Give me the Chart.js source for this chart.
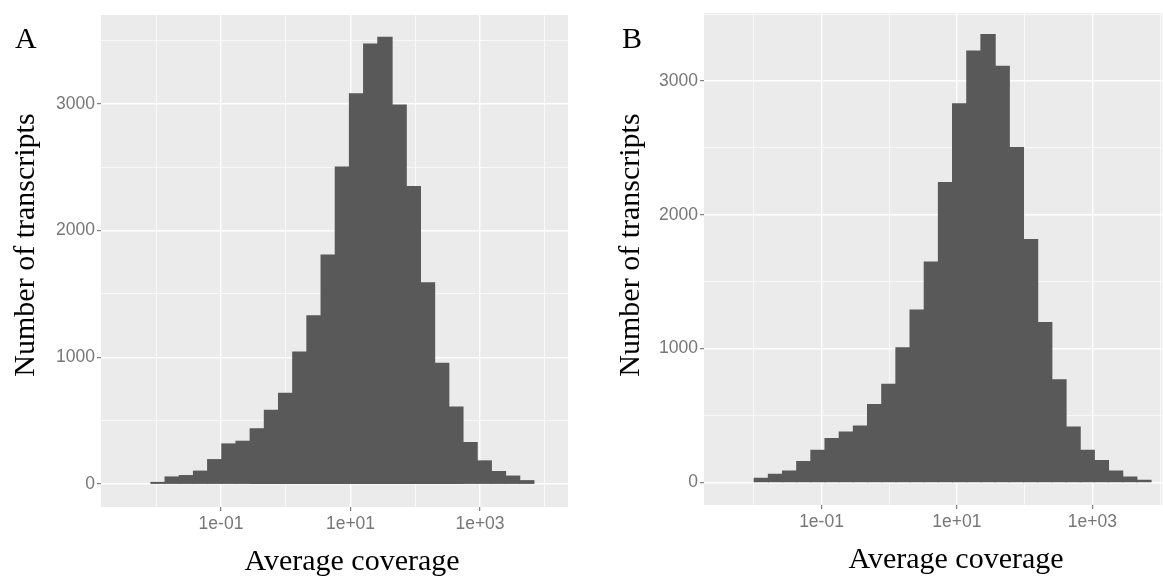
<!DOCTYPE html>
<html>
<head>
<meta charset="utf-8">
<script src="https://cdn.jsdelivr.net/npm/chart.js@4.4.1/dist/chart.umd.min.js"></script>
<style>
  body { margin: 0; background: #fff; }
  .panel { position: absolute; top: 0; }
</style>
</head>
<body>
<div class="panel" style="left:0"><canvas id="chart-a" width="580" height="577"></canvas></div>
<div class="panel" style="left:580px"><canvas id="chart-b" width="583" height="577"></canvas></div>
<script>
// Histogram bins, centres given as log10(average coverage)
const binsA = [-1.972, -1.753, -1.534, -1.315, -1.096, -0.877, -0.658, -0.439, -0.220, -0.001,
  0.218, 0.437, 0.656, 0.875, 1.094, 1.313, 1.532, 1.751, 1.970, 2.189,
  2.408, 2.627, 2.846, 3.065, 3.284, 3.503, 3.722];
const countsA = [12, 55, 66, 101, 192, 316, 337, 436, 582, 716,
  1042, 1327, 1807, 2501, 3080, 3472, 3526, 2991, 2347, 1588,
  953, 607, 327, 182, 98, 62, 26];

const binsB = [-1.889, -1.680, -1.471, -1.261, -1.052, -0.843, -0.633, -0.424, -0.215, -0.005,
  0.204, 0.413, 0.623, 0.832, 1.041, 1.251, 1.460, 1.669, 1.879, 2.088,
  2.297, 2.507, 2.716, 2.925, 3.134, 3.344, 3.553, 3.762];
const countsB = [30, 60, 85, 155, 240, 328, 376, 420, 582, 732,
  1005, 1287, 1646, 2240, 2829, 3223, 3347, 3110, 2502, 1815,
  1194, 766, 413, 240, 163, 84, 40, 15];

// axis breaks (x in log10 units)
const xMajor = [-1, 1, 3];
const xLabels = ["1e-01", "1e+01", "1e+03"];
const xMinor = [-2, 0, 2, 4];
const yMajor = [0, 1000, 2000, 3000];
const yLabels = ["0", "1000", "2000", "3000"];
const yMinor = [500, 1500, 2500, 3500];

const xTitle = "Average coverage";
const yTitle = "Number of transcripts";

// grey panel behind the bars
const panelBackground = {
  id: "panelBackground",
  beforeDraw(chart) {
    const { ctx, chartArea: a } = chart;
    ctx.save();
    ctx.fillStyle = "#ebebeb";
    ctx.fillRect(a.left, a.top, a.right - a.left, a.bottom - a.top);
    ctx.restore();
  }
};

// panel letter and axis titles (serif, like the figure)
const panelText = {
  id: "panelText",
  afterDraw(chart, args, opts) {
    const ctx = chart.ctx;
    ctx.save();
    ctx.fillStyle = "#000";
    ctx.font = '30px "Liberation Serif"';
    ctx.textBaseline = "alphabetic";
    ctx.textAlign = "left";
    ctx.fillText(opts.letter, opts.letterX, opts.letterY);
    ctx.textAlign = "center";
    ctx.fillText(xTitle, opts.xTitleX, opts.xTitleY);
    ctx.translate(opts.yTitleX, opts.yTitleY);
    ctx.rotate(-Math.PI / 2);
    ctx.fillText(yTitle, 0, 0);
    ctx.restore();
  }
};

const tickFont = { family: '"Liberation Sans", Arial, sans-serif', size: 17.5 };

function makeChart(id, bins, counts, p) {
  const ctx = document.getElementById(id).getContext("2d");
  return new Chart(ctx, {
    type: "bar",
    data: {
      datasets: [{
        data: bins.map((b, i) => ({ x: b, y: counts[i] })),
        backgroundColor: "#595959",
        borderWidth: 0,
        inflateAmount: 0.6,
        barPercentage: 1,
        categoryPercentage: 1,
      }],
    },
    options: {
      responsive: false,
      animation: false,
      devicePixelRatio: 1,
      layout: { padding: { left: 0, top: p.top, right: p.right, bottom: 0 } },
      scales: {
        x: {
          type: "linear",
          min: p.xMin,
          max: p.xMax,
          offset: false,
          afterFit: (s) => { s.height = p.xAxisHeight; },
          afterBuildTicks: (s) => {
            s.ticks = xMinor.concat(xMajor).sort((a, b) => a - b).map(v => ({ value: v }));
          },
          ticks: {
            autoSkip: false,
            maxRotation: 0,
            padding: 3,
            color: "#777",
            font: tickFont,
            callback: (v) => {
              const i = xMajor.indexOf(v);
              return i < 0 ? "" : xLabels[i];
            },
          },
          grid: {
            offset: false,
            color: "#fff",
            lineWidth: (c) => (xMajor.includes(c.tick.value) ? 1.4 : 0.7),
            tickLength: 4,
            tickWidth: 1,
            tickColor: (c) => (xMajor.includes(c.tick.value) ? "#666" : "rgba(0,0,0,0)"),
          },
          border: { display: false },
        },
        y: {
          min: p.yMin,
          max: p.yMax,
          afterFit: (s) => { s.width = p.yAxisWidth; },
          afterBuildTicks: (s) => {
            s.ticks = yMinor.concat(yMajor).sort((a, b) => a - b).map(v => ({ value: v }));
          },
          ticks: {
            padding: 2,
            color: "#777",
            font: tickFont,
            callback: (v) => {
              const i = yMajor.indexOf(v);
              return i < 0 ? "" : yLabels[i];
            },
          },
          grid: {
            color: "#fff",
            lineWidth: (c) => (yMajor.includes(c.tick.value) ? 1.4 : 0.7),
            tickLength: 4,
            tickWidth: 1,
            tickColor: (c) => (yMajor.includes(c.tick.value) ? "#666" : "rgba(0,0,0,0)"),
          },
          border: { display: false },
        },
      },
      plugins: {
        legend: { display: false },
        tooltip: { enabled: false },
        panelText: p.text,
      },
    },
    plugins: [panelBackground, panelText],
  });
}

makeChart("chart-a", binsA, countsA, {
  xMin: -2.853, xMax: 4.359, yMin: -181.6, yMax: 3702.6,
  top: 15, right: 12, yAxisWidth: 101, xAxisHeight: 70,
  text: { letter: "A", letterX: 15, letterY: 48, xTitleX: 352, xTitleY: 570, yTitleX: 34, yTitleY: 245 },
});

makeChart("chart-b", binsB, countsB, {
  xMin: -2.736, xMax: 4.034, yMin: -169, yMax: 3508,
  top: 13, right: 0, yAxisWidth: 124, xAxisHeight: 72,
  text: { letter: "B", letterX: 42, letterY: 48, xTitleX: 376, xTitleY: 568, yTitleX: 59, yTitleY: 245 },
});
</script>
</body>
</html>
